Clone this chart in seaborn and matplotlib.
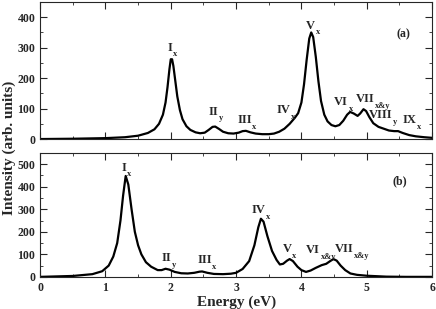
import pandas as pd
import matplotlib
matplotlib.use('Agg')
import matplotlib.pyplot as plt
import seaborn as sns
from matplotlib.ticker import MultipleLocator

# panel (a) spectrum
energy_a = [0.0, 0.5, 1.0, 1.3, 1.5, 1.65, 1.75, 1.82, 1.88, 1.92, 1.95, 1.98, 2.0, 2.02,
            2.04, 2.07, 2.10, 2.14, 2.18, 2.24, 2.30, 2.38, 2.45, 2.52, 2.58, 2.64, 2.68,
            2.74, 2.80, 2.88, 2.96, 3.04, 3.10, 3.15, 3.22, 3.30, 3.40, 3.50, 3.58, 3.66,
            3.74, 3.82, 3.90, 3.95, 4.00, 4.04, 4.08, 4.12, 4.15, 4.18, 4.22, 4.26, 4.30,
            4.35, 4.40, 4.46, 4.52, 4.58, 4.64, 4.70, 4.745, 4.80, 4.86, 4.90, 4.95, 4.99,
            5.04, 5.10, 5.18, 5.26, 5.34, 5.42, 5.48, 5.55, 5.65, 5.75, 5.88, 6.0]
intens_a = [0, 1, 3, 6, 11, 20, 32, 50, 80, 120, 170, 230, 262, 262,
            240, 190, 140, 95, 65, 42, 30, 22, 19, 21, 30, 40, 41,
            33, 24, 19, 18, 21, 26, 27, 22, 18, 16, 16, 18, 24,
            34, 50, 70, 85, 120, 180, 260, 330, 350, 335, 270, 190, 125,
            80, 58, 46, 42, 46, 60, 80, 89, 84, 76, 84, 98, 92,
            72, 52, 40, 34, 28, 26, 26, 20, 13, 9, 6, 4]

# panel (b) spectrum
energy_b = [0.0, 0.5, 0.8, 0.95, 1.05, 1.12, 1.18, 1.23, 1.27, 1.31, 1.35, 1.40, 1.45,
            1.50, 1.55, 1.62, 1.70, 1.80, 1.86, 1.92, 1.98, 2.06, 2.16, 2.26, 2.36, 2.44,
            2.48, 2.56, 2.66, 2.80, 2.92, 3.00, 3.10, 3.20, 3.28, 3.34, 3.38, 3.42, 3.48,
            3.55, 3.62, 3.67, 3.72, 3.78, 3.82, 3.87, 3.94, 4.00, 4.07, 4.14, 4.22, 4.31,
            4.38, 4.44, 4.49, 4.54, 4.60, 4.67, 4.75, 4.85, 5.0, 5.15, 5.3, 5.6, 6.0]
intens_b = [0, 4, 12, 25, 50, 90, 150, 250, 360, 448, 410, 300, 200,
            140, 100, 65, 45, 30, 30, 36, 32, 22, 16, 15, 18, 23,
            24, 18, 13, 12, 14, 18, 35, 70, 140, 220, 258, 245, 180,
            115, 75, 55, 58, 72, 79, 70, 45, 30, 22, 28, 40, 52,
            58, 70, 79, 72, 50, 30, 15, 9, 5, 3, 1, 0, 0]

# peak labels: (numeral, subscript, energy, intensity)
labels_a = [('I', 'x', 1.99, 300), ('II', 'y', 2.66, 90),
            ('III', 'x', 3.13, 62), ('IV', 'x', 3.72, 95),
            ('V', 'x', 4.14, 372), ('VI', 'x', 4.61, 121),
            ('VII', 'x&y', 4.98, 132), ('VIII', 'y', 5.22, 78),
            ('IX', 'x', 5.66, 62)]
labels_b = [('I', 'x', 1.28, 485), ('II', 'y', 1.94, 82),
            ('III', 'x', 2.52, 75), ('IV', 'x', 3.35, 296),
            ('V', 'x', 3.78, 124), ('VI', 'x&y', 4.18, 120),
            ('VII', 'x&y', 4.66, 124)]

sns.set_style('ticks')
plt.rcParams['font.family'] = ['Liberation Serif', 'DejaVu Serif']
plt.rcParams['font.weight'] = 'bold'

fig = plt.figure(figsize=(4.36, 3.09), dpi=100)
ax_a = fig.add_axes([0.092, 0.55, 0.899, 0.4435])
ax_b = fig.add_axes([0.092, 0.104, 0.899, 0.401])

df_a = pd.DataFrame({'E': energy_a, 'I': intens_a})
df_b = pd.DataFrame({'E': energy_b, 'I': intens_b})

for ax, df, labs, ymax, tag, tagpos in [(ax_a, df_a, labels_a, 450, '(a)', (5.56, 344)),
                                         (ax_b, df_b, labels_b, 550, '(b)', (5.51, 423))]:
    sns.lineplot(data=df, x='E', y='I', ax=ax, color='black', linewidth=1.6)
    ax.set_xlim(0, 6)
    ax.set_ylim(0, ymax)
    ax.set_xlabel('')
    ax.set_ylabel('')
    ax.xaxis.set_major_locator(MultipleLocator(1))
    ax.xaxis.set_minor_locator(MultipleLocator(0.5))
    ax.yaxis.set_major_locator(MultipleLocator(100))
    ax.yaxis.set_minor_locator(MultipleLocator(50))
    ax.tick_params(which='both', direction='in', top=True, right=True, labelsize=8.5)
    ax.tick_params(which='major', length=5, width=0.8)
    ax.tick_params(which='minor', length=2.5, width=0.6)
    for sp in ax.spines.values():
        sp.set_linewidth(0.8)
    for t in ax.get_xticklabels() + ax.get_yticklabels():
        t.set_fontweight('bold')
    for num, sub, x, y in labs:
        t = ax.text(x, y, num, ha='center', va='center', fontsize=9, fontweight='bold')
        ax.annotate(sub, xy=(1, 0), xycoords=t, xytext=(0.3, -0.5), textcoords='offset points',
                    ha='left', va='center', fontsize=6, fontweight='bold')
    ax.text(tagpos[0], tagpos[1], tag, ha='center', va='center', fontsize=8.5, fontweight='bold')

ax_a.set_xticklabels([])
ax_b.set_xlabel('Energy (eV)', fontsize=11, fontweight='bold', labelpad=1)
fig.text(0.022, 0.52, 'Intensity (arb. units)', rotation=90, ha='center', va='center',
         fontsize=11, fontweight='bold')

fig.savefig('out.png', dpi=100)
